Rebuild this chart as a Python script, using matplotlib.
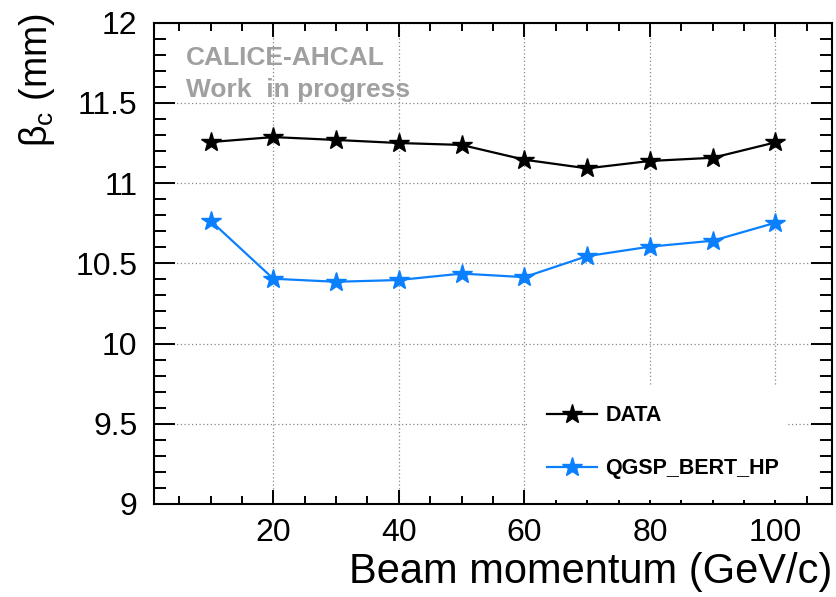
import matplotlib
matplotlib.use('Agg')
import matplotlib.pyplot as plt
from matplotlib.ticker import MultipleLocator

plt.rcParams['font.family'] = ['Liberation Sans', 'DejaVu Sans']
plt.rcParams['mathtext.fontset'] = 'custom'
plt.rcParams['mathtext.rm'] = 'Liberation Sans'

# beam momentum (GeV/c)
momentum = [10, 20, 30, 40, 50, 60, 70, 80, 90, 100]
# beta_c (mm)
beta_data = [11.256, 11.287, 11.269, 11.25, 11.238, 11.146, 11.092, 11.138, 11.158, 11.254]
beta_qgsp = [10.766, 10.404, 10.385, 10.396, 10.436, 10.414, 10.545, 10.604, 10.641, 10.753]

blue = '#0a80ff'

fig = plt.figure(figsize=(8.37, 5.97), dpi=100)
ax = fig.add_axes([0.184, 0.1558, 0.81, 0.8062])

ax.plot(momentum, beta_data, color='black', lw=1.6, marker='*', ms=15,
        label='DATA', zorder=3)
ax.plot(momentum, beta_qgsp, color=blue, lw=1.6, marker='*', ms=15,
        label='QGSP_BERT_HP', zorder=3)

ax.set_xlim(1, 109)
ax.set_ylim(9, 12)
ax.xaxis.set_major_locator(MultipleLocator(20))
ax.xaxis.set_minor_locator(MultipleLocator(5))
ax.yaxis.set_major_locator(MultipleLocator(0.5))
ax.yaxis.set_minor_locator(MultipleLocator(0.1))
ax.yaxis.set_major_formatter(plt.FuncFormatter(lambda v, p: f'{v:g}'))

ax.tick_params(axis='both', which='both', direction='in', top=True, right=True,
               width=1.4, labelsize=23)
ax.tick_params(axis='x', which='major', length=10, pad=10)
ax.tick_params(axis='x', which='minor', length=6)
ax.tick_params(axis='y', which='major', length=15, pad=12)
ax.tick_params(axis='y', which='minor', length=8.5)
for s in ax.spines.values():
    s.set_linewidth(1.5)

ax.grid(True, which='major', color='#888888', lw=0.9, linestyle=(0, (1, 2)))
ax.set_axisbelow(True)

fig.text(0.994, 0.0235, 'Beam momentum (GeV/c)', ha='right', va='baseline',
         fontsize=30)
fig.text(0.044, 0.978, r'β$_\mathrm{c}$ (mm)', ha='center', va='top',
         rotation=90, fontsize=27)

ax.text(0.047, 0.912, 'CALICE-AHCAL', transform=ax.transAxes, color='#a0a0a0',
        fontsize=19, fontweight='bold', va='baseline')
ax.text(0.047, 0.845, 'Work  in progress', transform=ax.transAxes, color='#a0a0a0',
        fontsize=19, fontweight='bold', va='baseline')

leg = ax.legend(loc='upper left', bbox_to_anchor=(0.55, 0.247, 0.383, 0.0),
                mode='expand', borderaxespad=0, borderpad=0.94,
                handlelength=2.3, handletextpad=0.4, labelspacing=1.49,
                prop={'weight': 'bold', 'size': 15.5}, fancybox=False,
                framealpha=1, edgecolor='none', facecolor='white')

fig.savefig('out.png', dpi=100)
